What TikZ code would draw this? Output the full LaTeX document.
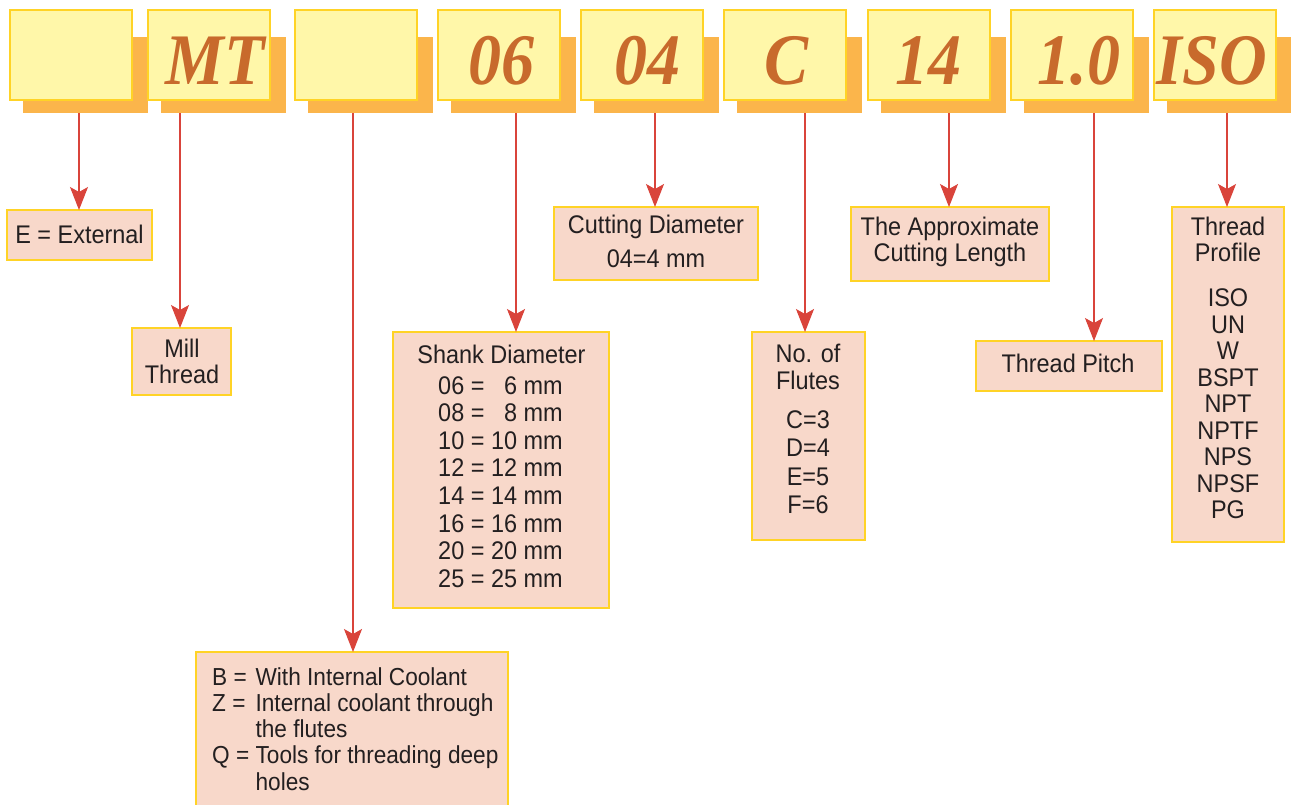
\documentclass[tikz,border=0pt]{standalone}
\usepackage{fontspec}
\setmainfont{Liberation Sans}[FakeStretch=0.92]
\newfontfamily\codefont{Liberation Serif}
\usetikzlibrary{arrows.meta}
\definecolor{boxyel}{HTML}{FFF7A9}
\definecolor{boxgold}{HTML}{FFD326}
\definecolor{shade}{HTML}{FBB54B}
\definecolor{codecol}{HTML}{C86A2C}
\definecolor{pinkfill}{HTML}{F8D8CA}
\definecolor{arrred}{HTML}{D9443B}
\definecolor{ink}{HTML}{231F20}
\newcommand\mylines[2][c]{\begin{tabular}[t]{@{}#1@{}}#2\end{tabular}}
\begin{document}
\begin{tikzpicture}[x=1pt,y=-1pt,
  shadowbox/.style={fill=shade, draw=none, anchor=north west, inner sep=0pt, outer sep=0pt, minimum width=125pt, minimum height=76pt},
  topbox/.style={fill=boxyel, draw=boxgold, line width=1.3pt, anchor=north west, minimum width=122pt, minimum height=90pt, inner sep=0pt, outer sep=0pt},
  code/.style={anchor=base, text=codecol, font=\codefont\bfseries\itshape\fontsize{66}{66}\selectfont, inner sep=0pt},
  infobox/.style={fill=pinkfill, draw=boxgold, line width=1.3pt, anchor=north west, inner sep=0pt, outer sep=0pt},
  info/.style={anchor=base, text=ink, inner sep=0pt},
  arr/.style={draw=arrred, line width=1.1pt, -{Stealth[length=23pt,width=18pt,inset=5pt]}}
]
\clip (0,0) rectangle (1291,804);
% shadows and code boxes
\foreach \i/\x in {1/10,2/148,3/295,4/438,5/581,6/724,7/868,8/1011,9/1154}{
  \node[shadowbox] (s\i) at (\x+13,37) {};
}
\foreach \i/\x in {1/10,2/148,3/295,4/438,5/581,6/724,7/868,8/1011,9/1154}{
  \node[topbox] (t\i) at (\x,10) {};
}
\node[code] (c2) at (215,84) {\scalebox{1}[1.1]{MT}};
\node[code] (c4) at (501,84) {\scalebox{1}[1.1]{06}};
\node[code] (c5) at (647,84) {\scalebox{1}[1.1]{04}};
\node[code] (c6) at (787,84) {\scalebox{1}[1.1]{C}};
\node[code] (c7) at (928,84) {\scalebox{1}[1.1]{14}};
\node[code] (c8) at (1079,84) {\scalebox{1}[1.1]{1.0}};
\node[code] (c9) at (1212,84) {\scalebox{1}[1.1]{ISO}};

% info boxes
\node[infobox, minimum width=145pt, minimum height=50pt] (ext) at (7,210) {};
\node[infobox, minimum width=99pt, minimum height=67pt] (mill) at (132,328) {};
\node[infobox, minimum width=312pt, minimum height=170pt] (cool) at (196,652) {};
\node[infobox, minimum width=216pt, minimum height=276pt] (shank) at (393,332) {};
\node[infobox, minimum width=204pt, minimum height=73pt] (cut) at (554,207) {};
\node[infobox, minimum width=113pt, minimum height=208pt] (flute) at (752,332) {};
\node[infobox, minimum width=198pt, minimum height=74pt] (approx) at (851,207) {};
\node[infobox, minimum width=186pt, minimum height=50pt] (pitch) at (976,341) {};
\node[infobox, minimum width=112pt, minimum height=335pt] (profile) at (1172,207) {};

% texts
\node[info, font=\fontsize{25.5}{27}\selectfont] (extT) at (79.5,243) {E = External};
\node[info, font=\fontsize{25.5}{26}\selectfont] (millT) at (182,357) {\mylines{Mill\\Thread}};
\node[info, anchor=base west, font=\fontsize{24.6}{26.3}\selectfont] (coolT) at (212,685)
  {\begin{tabular}[t]{@{}l@{\ }l@{}}B = & With Internal Coolant\\ Z = & Internal coolant through\\ & the flutes\\ Q = & Tools for threading deep\\ & holes\end{tabular}};
\node[info, font=\fontsize{25.5}{27}\selectfont] (shankH) at (501.5,363) {Shank Diameter};
\node[info, font=\fontsize{25.5}{27.6}\selectfont] (shankT) at (500.5,394)
  {\begin{tabular}[t]{@{}r@{ = }r@{ mm}@{}}06&6\\08&8\\10&10\\12&12\\14&14\\16&16\\20&20\\25&25\end{tabular}};
\node[info, font=\fontsize{25.5}{27}\selectfont] (cutT) at (656,233) {\mylines{Cutting Diameter\\[7pt]04=4 mm}};
\node[info, font=\fontsize{25.5}{27}\selectfont] (fluteT) at (808,362) {\mylines{No. of\\Flutes\\[12pt]C=3\\[1.5pt]D=4\\[1.5pt]E=5\\[1.5pt]F=6}};
\node[info, font=\fontsize{25.5}{26.7}\selectfont] (approxT) at (950,235) {\mylines{The Approximate\\Cutting Length}};
\node[info, font=\fontsize{25.5}{27}\selectfont] (pitchT) at (1068,372.7) {Thread Pitch};
\node[info, font=\fontsize{25.5}{26.5}\selectfont] (profileT) at (1228,235) {\mylines{Thread\\Profile\\[18.5pt]ISO\\UN\\W\\BSPT\\NPT\\NPTF\\NPS\\NPSF\\PG}};

% connectors
\coordinate (a1) at (79,113);
\coordinate (a2) at (180,113);
\coordinate (a3) at (353,113);
\coordinate (a4) at (516,113);
\coordinate (a5) at (655,113);
\coordinate (a6) at (805,113);
\coordinate (a7) at (949,113);
\coordinate (a8) at (1094,113);
\coordinate (a9) at (1227,113);
\draw[arr] (a1 |- s1.south) -- (a1 |- ext.north);
\draw[arr] (a2 |- s2.south) -- (a2 |- mill.north);
\draw[arr] (a3 |- s3.south) -- (a3 |- cool.north);
\draw[arr] (a4 |- s4.south) -- (a4 |- shank.north);
\draw[arr] (a5 |- s5.south) -- (a5 |- cut.north);
\draw[arr] (a6 |- s6.south) -- (a6 |- flute.north);
\draw[arr] (a7 |- s7.south) -- (a7 |- approx.north);
\draw[arr] (a8 |- s8.south) -- (a8 |- pitch.north);
\draw[arr] (a9 |- s9.south) -- (a9 |- profile.north);
\end{tikzpicture}
\end{document}
